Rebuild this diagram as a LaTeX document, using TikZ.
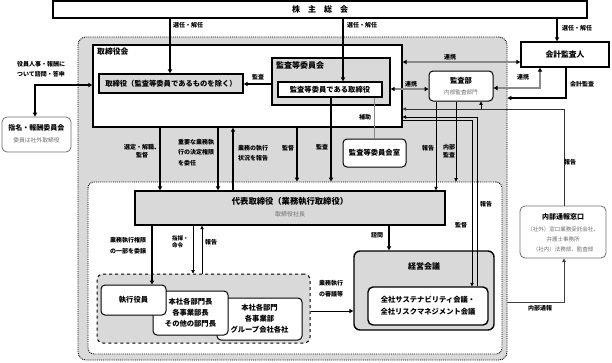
\documentclass[tikz,border=0pt]{standalone}
\usepackage{fontspec}
\setmainfont{Noto Sans CJK JP}
\usetikzlibrary{arrows.meta}
\definecolor{regiongray}{HTML}{D9D9D9}
\definecolor{boxgray}{HTML}{D9D9D9}
\definecolor{txtgray}{HTML}{6E6E6E}
\definecolor{linegray}{HTML}{8A8A8A}
\begin{document}
\begin{tikzpicture}[x=1pt,y=-1pt,
  region/.style={draw=black, fill=regiongray, densely dotted, line width=0.9pt, rounded corners=8pt, minimum width=#1, inner sep=0pt},
  thickbox/.style={draw=black, line width=1.4pt, inner sep=0pt, align=center},
  roundbox/.style={draw=black, line width=1pt, rounded corners=4pt, fill=white, inner sep=0pt, align=center},
  graybox/.style={draw=txtgray, line width=0.8pt, rounded corners=5pt, fill=white, inner sep=0pt, align=center},
  bt/.style={font=\fontsize{7.3}{11}\selectfont\bfseries},
  lbl/.style={font=\fontsize{6}{8}\selectfont\bfseries, inner sep=0pt, align=center},
  gt/.style={font=\fontsize{5.6}{7}\selectfont, text=txtgray, inner sep=0pt, align=center},
  tip/.tip={Triangle[length=4pt,width=4.2pt]},
  btip/.tip={Triangle[length=4pt,width=4.2pt,color=black]},
  stip/.tip={Triangle[length=3.4pt,width=3.4pt]},
  arr/.style={-tip, line width=1.2pt},
  arrthin/.style={-stip, line width=0.7pt},
  darrgray/.style={btip-btip, line width=1.6pt, draw=linegray},
  darr/.style={tip-tip, line width=1.2pt},
]
\useasboundingbox (0,0) rectangle (612,362);

% regions
\node[region=429pt, minimum height=323pt] (outer) at (292.5,198.5) {};
\node[thickbox, fill=white, minimum width=309pt, minimum height=82pt] (tkai) at (247.5,86) {};
\node[anchor=west, bt, inner sep=0pt, font=\fontsize{7.8}{9}\selectfont\bfseries] (tkailbl) at (97,52) {取締役会};
\node[region=414pt, minimum height=172pt, fill=white, rounded corners=6pt] (inner) at (295,268) {};

% shareholders
\node[thickbox, fill=white, minimum width=534pt, minimum height=17pt, font=\fontsize{8}{9}\selectfont\bfseries] (soukai) at (320,9.5) {株　主　総　会};

% board
\node[thickbox, fill=boxgray, minimum width=144pt, minimum height=19pt, bt] (tori) at (171,83.5) {取締役（監査等委員であるものを除く）};
\node[thickbox, fill=boxgray, minimum width=118pt, minimum height=47pt] (kiinkai) at (331,81.5) {};
\node[anchor=west, inner sep=0pt, font=\fontsize{8}{9}\selectfont\bfseries] (kiinkailbl) at (276,65) {監査等委員会};
\node[thickbox, fill=white, minimum width=104pt, minimum height=15pt, bt] (ktori) at (330,89.5) {監査等委員である取締役};

\node[thickbox, fill=white, minimum width=88pt, minimum height=25pt, font=\fontsize{7.8}{9}\selectfont\bfseries] (kaikei) at (565,54.5) {会計監査人};
\node[roundbox, minimum width=64pt, minimum height=30pt] (kansabu) at (461,86) {};
\node[bt] (kansabult) at (461,80.5) {監査部};
\node[gt] (kansabusub) at (461,92.5) {内部監査部門};
\node[roundbox, minimum width=63pt, minimum height=28pt, bt] (shitsu) at (374.5,153) {監査等委員会室};

% executive
\node[thickbox, fill=boxgray, minimum width=310pt, minimum height=34pt] (daihyo) at (290,208) {};
\node[inner sep=0pt, font=\fontsize{8.3}{9}\selectfont\bfseries] (daihyot) at (290,201) {代表取締役（業務執行取締役）};
\node[gt, font=\fontsize{6}{7}\selectfont] (daihyosub) at (290,214.5) {取締役社長};

\node[draw=black, fill=regiongray, dashed, line width=1pt, rounded corners=6pt, minimum width=213pt, minimum height=69pt] (exec) at (203.5,308.5) {};
\node[roundbox, minimum width=85pt, minimum height=42pt, bt] (bumon) at (259.5,319) {本社各部門\\各事業部\\グループ会社各社};
\node[roundbox, minimum width=75pt, minimum height=44pt, bt] (buchou) at (190.5,313) {本社各部門長\\各事業部長\\その他の部門長};
\node[roundbox, minimum width=65pt, minimum height=30pt, bt] (shikko) at (133.5,300) {執行役員};

\node[draw=black, fill=boxgray, line width=1.4pt, rounded corners=6pt, minimum width=140pt, minimum height=79pt] (keiei) at (424,290.5) {};
\node[inner sep=0pt, font=\fontsize{8}{9}\selectfont\bfseries] (keieilbl) at (424,266) {経営会議};
\node[draw=black, fill=white, line width=1.4pt, rounded corners=5pt, minimum width=120pt, minimum height=38pt, inner sep=0pt, align=center, font=\fontsize{7.3}{12}\selectfont\bfseries] (zensha) at (428,306) {全社サステナビリティ会議・\\全社リスクマネジメント会議};

% outside boxes
\node[graybox, minimum width=86pt, minimum height=52pt] (tsuho) at (563,232) {};
\node[inner sep=0pt, font=\fontsize{7}{8}\selectfont\bfseries] (tsuhot) at (563,217) {内部通報窓口};
\node[gt, font=\fontsize{5.5}{10}\selectfont] (tsuhosub) at (563,239) {（社外）窓口業務受託会社、\\弁護士事務所\\（社内）法務部、監査部};
\node[graybox, minimum width=69pt, minimum height=35pt] (shimei) at (36.5,134.5) {};
\node[inner sep=0pt, font=\fontsize{7}{8}\selectfont\bfseries] (shimeit) at (36.5,128) {指名・報酬委員会};
\node[gt, font=\fontsize{5.8}{7}\selectfont] (shimeisub) at (36.5,140.5) {委員は社外取締役};

% connectors
\coordinate (j1) at (481,109);
\draw[arr] (soukai.south -| 170,0) -- (tori.north -| 170,0);
\draw[arr] (soukai.south -| 343,0) -- (ktori.north -| 343,0);
\draw[arr] (soukai.south -| 557,0) -- (kaikei.north -| 557,0);
\draw[arr] (kiinkai.west |- 0,84) -- (tori.east |- 0,84);
\draw[darrgray] (tkai.east |- 0,62) -- (kaikei.west |- 0,62);
\draw[darrgray] (kiinkai.east |- 0,89) -- (kansabu.west |- 0,89);
\draw[darrgray] (kaikei.south -| 540,0) |- (kansabu.east |- 0,88);
\draw[arr] (kaikei.south -| 566,0) |- (outer.east |- 0,98);
\draw[arrthin, draw=black!80] (tsuho.north -| 564,0) |- (tkai.east |- 0,109);
\draw[arrthin] (j1) -- (kansabu.south -| 481,0);
\draw[arrthin] (zensha.north -| 477,0) |- (tkai.east |- 0,117);
\draw[arrthin] (tkai.east |- 0,120.5) -| (zensha.north -| 472,0);
\draw[line width=0.8pt, draw=linegray] (ktori.south -| 374,0) -- (shitsu.north -| 374,0);
\draw[arr] (ktori.south -| 331,0) -- (inner.north -| 331,0);
\draw[arrthin] (kansabu.south -| 436,0) -- (daihyo.north -| 436,0);
\draw[arrthin] (kansabu.south -| 456,0) -- (inner.north -| 456,0);
\draw[arr] (tkai.south -| 160,0) -- (daihyo.north -| 160,0);
\draw[arr] (tkai.south -| 218,0) -- (daihyo.north -| 218,0);
\draw[arr] (daihyo.north -| 233,0) -- (tkai.south -| 233,0);
\draw[arr] (tkai.south -| 297,0) -- (inner.north -| 297,0);
\draw[arr] (daihyo.south -| 152,0) -- (shikko.north -| 152,0);
\draw[arrthin] (daihyo.south -| 193,0) -- (exec.north -| 193,0);
\draw[arrthin] (exec.north -| 202,0) -- (daihyo.south -| 202,0);
\draw[arr] (daihyo.south -| 389,0) -- (keiei.north -| 389,0);
\draw[arr, line width=1pt] (exec.east |- 0,311) -- (keiei.west |- 0,311);
\draw[arrthin, draw=black!75, line width=0.9pt] (outer.east |- 0,302) -| (tsuho.south -| 564,0);
\draw[darr] (tkai.west |- 0,85) -| (shimei.north -| 35,0);

% labels
\node[lbl, anchor=west] (l1) at (173,25) {選任・解任};
\node[lbl, anchor=west] (l2) at (347,25) {選任・解任};
\node[lbl, anchor=west] (l3) at (562,28) {選任・解任};
\node[lbl] (l4) at (258,77) {監査};
\node[lbl] (l5) at (450,57) {連携};
\node[lbl] (l6) at (411,84) {連携};
\node[lbl] (l7) at (523,77) {連携};
\node[lbl] (l8) at (582,84) {会計監査};
\node[lbl] (l9) at (570,162) {報告};
\node[lbl] (l10) at (486,204) {報告};
\node[lbl] (l11) at (461,225) {監督};
\node[lbl] (l12) at (365,117) {補助};
\node[lbl] (l13) at (322,147) {監査};
\node[lbl] (l14) at (428,148) {報告};
\node[lbl] (l15) at (449,151) {内部\\監査};
\node[lbl] (l16) at (142,151.5) {選定・解職、\\監督};
\node[lbl, anchor=west, align=left, font=\fontsize{6}{10.5}\selectfont\bfseries] (l17) at (178,152.5) {重要な業務執\\行の決定権限\\を委任};
\node[lbl, anchor=west, align=left, font=\fontsize{6}{10}\selectfont\bfseries] (l18) at (238,153) {業務の執行\\状況を報告};
\node[lbl] (l19) at (288,148) {監督};
\node[lbl, font=\fontsize{6}{11}\selectfont\bfseries] (l20) at (128,245.5) {業務執行権限\\の一部を委譲};
\node[lbl, anchor=west, align=left, font=\fontsize{5.5}{7}\selectfont\bfseries] (l21) at (172,241.5) {指揮・\\命令};
\node[lbl] (l22) at (211,242) {報告};
\node[lbl] (l23) at (377,235) {諮問};
\node[lbl, anchor=west, align=left, font=\fontsize{6}{11}\selectfont\bfseries] (l24) at (319,289) {業務執行\\の審議等};
\node[lbl] (l25) at (540,308) {内部通報};
\node[lbl, font=\fontsize{6}{10}\selectfont\bfseries] (l26) at (41,69.5) {役員人事・報酬に\\ついて諮問・答申};
\end{tikzpicture}
\end{document}
